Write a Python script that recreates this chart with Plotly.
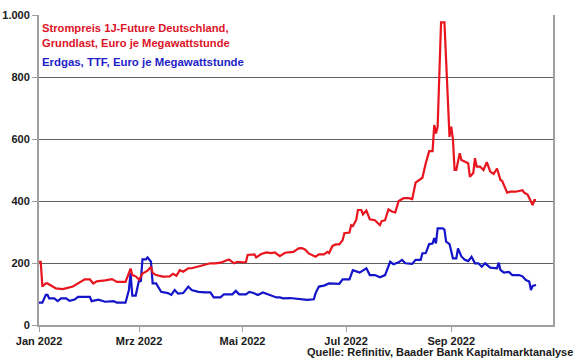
import plotly.graph_objects as go

# Strompreis 1J-Future Deutschland, Grundlast (EUR/MWh)
strom_dates = [
    "2022-01-01", "2022-01-02", "2022-01-03", "2022-01-05", "2022-01-06", "2022-01-08",
    "2022-01-11", "2022-01-15", "2022-01-21", "2022-01-28", "2022-01-31", "2022-02-02",
    "2022-02-04", "2022-02-09", "2022-02-13", "2022-02-16", "2022-02-21", "2022-02-24",
    "2022-02-25", "2022-02-27", "2022-03-01", "2022-03-03", "2022-03-06", "2022-03-08",
    "2022-03-09", "2022-03-11", "2022-03-15", "2022-03-19", "2022-03-21", "2022-03-23",
    "2022-03-25", "2022-03-27", "2022-03-30", "2022-04-01", "2022-04-05", "2022-04-09",
    "2022-04-12", "2022-04-15", "2022-04-18", "2022-04-21", "2022-04-23", "2022-04-26",
    "2022-04-28", "2022-05-01", "2022-05-03", "2022-05-04", "2022-05-08", "2022-05-09",
    "2022-05-12", "2022-05-15", "2022-05-18", "2022-05-20", "2022-05-23", "2022-05-26",
    "2022-05-31", "2022-06-03", "2022-06-05", "2022-06-07", "2022-06-09", "2022-06-13",
    "2022-06-15", "2022-06-18", "2022-06-20", "2022-06-21", "2022-06-23", "2022-06-25",
    "2022-06-27", "2022-06-29", "2022-06-30", "2022-07-03", "2022-07-04", "2022-07-05",
    "2022-07-07", "2022-07-08", "2022-07-10", "2022-07-11", "2022-07-13", "2022-07-15",
    "2022-07-18", "2022-07-21", "2022-07-22", "2022-07-24", "2022-07-26", "2022-07-28",
    "2022-07-30", "2022-08-01", "2022-08-04", "2022-08-07", "2022-08-09", "2022-08-11",
    "2022-08-13", "2022-08-15", "2022-08-17", "2022-08-19", "2022-08-21", "2022-08-22",
    "2022-08-23", "2022-08-24", "2022-08-26", "2022-08-28", "2022-08-31", "2022-09-01",
    "2022-09-02", "2022-09-03", "2022-09-04", "2022-09-06", "2022-09-07", "2022-09-09",
    "2022-09-11", "2022-09-12", "2022-09-14", "2022-09-15", "2022-09-16", "2022-09-18",
    "2022-09-20", "2022-09-22", "2022-09-24", "2022-09-26", "2022-09-28", "2022-09-30",
    "2022-10-01", "2022-10-04", "2022-10-06", "2022-10-09", "2022-10-13", "2022-10-14",
    "2022-10-16", "2022-10-17", "2022-10-19", "2022-10-20", "2022-10-21",
]
strom_values = [
    204, 204, 124, 134, 134, 128,
    118, 116, 124, 147, 147, 134,
    141, 144, 148, 139, 139, 182,
    161, 157, 146, 166, 175, 188,
    168, 161, 156, 157, 165, 159,
    177, 172, 183, 183, 188, 193,
    199, 199, 201, 207, 211, 199,
    204, 202, 203, 226, 228, 218,
    229, 234, 232, 234, 222, 233,
    236, 247, 248, 243, 231, 220,
    228, 228, 236, 232, 255, 260,
    260, 274, 296, 298, 322, 319,
    339, 371, 371, 357, 369, 341,
    338, 322, 335, 338, 373, 366,
    363, 400, 409, 409, 406, 459,
    466, 475, 522, 561, 561, 645,
    618, 640, 976, 976, 607, 640,
    600, 500, 500, 554, 532, 527,
    522, 478, 490, 538, 511, 511,
    500, 525, 495, 487, 505, 468,
    465, 427, 430, 430, 435, 427,
    421, 410, 387, 403, 403,
]

# Erdgas TTF (EUR/MWh)
gas_dates = [
    "2022-01-01", "2022-01-03", "2022-01-05", "2022-01-06", "2022-01-07", "2022-01-10",
    "2022-01-12", "2022-01-14", "2022-01-17", "2022-01-19", "2022-01-22", "2022-01-24",
    "2022-01-31", "2022-02-01", "2022-02-05", "2022-02-09", "2022-02-14", "2022-02-16",
    "2022-02-21", "2022-02-23", "2022-02-24", "2022-02-25", "2022-02-27", "2022-03-01",
    "2022-03-02", "2022-03-03", "2022-03-05", "2022-03-06", "2022-03-08", "2022-03-09",
    "2022-03-11", "2022-03-14", "2022-03-18", "2022-03-20", "2022-03-22", "2022-03-24",
    "2022-03-27", "2022-03-30", "2022-04-01", "2022-04-05", "2022-04-09", "2022-04-12",
    "2022-04-14", "2022-04-18", "2022-04-20", "2022-04-25", "2022-04-27", "2022-04-29",
    "2022-05-03", "2022-05-05", "2022-05-07", "2022-05-10", "2022-05-13", "2022-05-15",
    "2022-05-18", "2022-05-21", "2022-05-23", "2022-05-25", "2022-05-29", "2022-06-01",
    "2022-06-05", "2022-06-08", "2022-06-12", "2022-06-13", "2022-06-15", "2022-06-18",
    "2022-06-21", "2022-06-27", "2022-06-29", "2022-07-03", "2022-07-05", "2022-07-07",
    "2022-07-09", "2022-07-13", "2022-07-15", "2022-07-18", "2022-07-21", "2022-07-24",
    "2022-07-27", "2022-07-29", "2022-08-01", "2022-08-03", "2022-08-05", "2022-08-09",
    "2022-08-11", "2022-08-14", "2022-08-15", "2022-08-17", "2022-08-19", "2022-08-21",
    "2022-08-22", "2022-08-23", "2022-08-24", "2022-08-27", "2022-08-28", "2022-08-29",
    "2022-08-31", "2022-09-02", "2022-09-04", "2022-09-05", "2022-09-07", "2022-09-09",
    "2022-09-11", "2022-09-13", "2022-09-15", "2022-09-17", "2022-09-19", "2022-09-21",
    "2022-09-23", "2022-09-24", "2022-09-28", "2022-09-29", "2022-09-30", "2022-10-02",
    "2022-10-05", "2022-10-07", "2022-10-11", "2022-10-13", "2022-10-15", "2022-10-17",
    "2022-10-18", "2022-10-19", "2022-10-21",
]
gas_values = [
    72, 72, 97, 97, 86, 86,
    77, 86, 86, 78, 82, 91,
    91, 77, 82, 75, 77, 72,
    72, 113, 167, 95, 95, 145,
    140, 212, 212, 218, 204, 134,
    134, 107, 103, 97, 113, 101,
    103, 124, 113, 107, 105, 105,
    89, 89, 99, 99, 110, 99,
    99, 107, 104, 97, 105, 101,
    94, 89, 89, 86, 87, 85,
    83, 81, 83, 102, 124, 127,
    134, 133, 147, 147, 177, 172,
    169, 183, 161, 161, 154, 161,
    204, 196, 202, 210, 199, 197,
    210, 210, 231, 232, 261, 263,
    280, 263, 312, 312, 308, 269,
    261, 215, 215, 247, 221, 210,
    206, 220, 199, 199, 188, 199,
    188, 185, 183, 201, 178, 169,
    171, 161, 161, 157, 145, 140,
    113, 126, 129,
]

y_ticks = [0, 200, 400, 600, 800, 1000]
y_ticktext = ["0", "200", "400", "600", "800", "1.000"]
x_ticks = ["2022-01-01", "2022-03-01", "2022-05-01", "2022-07-01", "2022-09-01"]
x_ticktext = ["Jan 2022", "Mrz 2022", "Mai 2022", "Jul 2022", "Sep 2022"]

RED = "#e8141e"
BLUE = "#1414c8"
FONT = "Liberation Sans"

fig = go.Figure()
fig.add_trace(go.Scatter(x=gas_dates, y=gas_values, mode="lines",
                         line=dict(color=BLUE, width=2.2), name="Erdgas"))
fig.add_trace(go.Scatter(x=strom_dates, y=strom_values, mode="lines",
                         line=dict(color=RED, width=2.2), name="Strom"))

fig.update_layout(
    template="none",
    width=580, height=359,
    margin=dict(l=39, r=27, t=15, b=34, autoexpand=False),
    paper_bgcolor="white", plot_bgcolor="white",
    showlegend=False,
    font=dict(family=FONT, size=11, color="#1a1a1a"),
    xaxis=dict(
        type="date", range=["2022-01-01", "2022-10-31"],
        tickvals=x_ticks, ticktext=x_ticktext,
        showgrid=False, showline=True, linecolor="#a0a0a0", linewidth=2,
        ticks="outside", ticklen=5, tickcolor="#a0a0a0", tickwidth=1,
        tickfont=dict(family=FONT, size=11, color="#1a1a1a", weight="bold"),
        mirror=False, zeroline=False, automargin=False,
    ),
    yaxis=dict(
        range=[0, 1000], tickvals=y_ticks, ticktext=y_ticktext,
        showgrid=True, gridcolor="#606060", gridwidth=1,
        showline=True, linecolor="#a0a0a0", linewidth=2, mirror=True,
        ticks="outside", ticklen=5, tickcolor="#a0a0a0", tickwidth=1,
        tickfont=dict(family=FONT, size=11, color="#1a1a1a", weight="bold"),
        zeroline=False, automargin=False,
    ),
    annotations=[
        dict(text="Strompreis 1J-Future Deutschland,<br>Grundlast, Euro je Megawattstunde",
             xref="paper", yref="paper", x=0.002, y=0.985, xanchor="left", yanchor="top",
             align="left", showarrow=False,
             font=dict(family=FONT, size=11.2, color="#dc1428", weight="bold")),
        dict(text="Erdgas, TTF, Euro je Megawattstunde",
             xref="paper", yref="paper", x=0.002, y=0.875, xanchor="left", yanchor="top",
             align="left", showarrow=False,
             font=dict(family=FONT, size=11.4, color="#1e1ec8", weight="bold")),
        dict(text="Quelle: Refinitiv, Baader Bank Kapitalmarktanalyse",
             xref="paper", yref="paper", x=1.043, y=-0.087, xanchor="right", yanchor="middle",
             showarrow=False,
             font=dict(family=FONT, size=11, color="#1a1a1a", weight="bold")),
    ],
)

fig.write_html("out.html", config={"displayModeBar": False},
               post_script="document.body.style.margin='0';document.body.style.overflow='hidden';")
